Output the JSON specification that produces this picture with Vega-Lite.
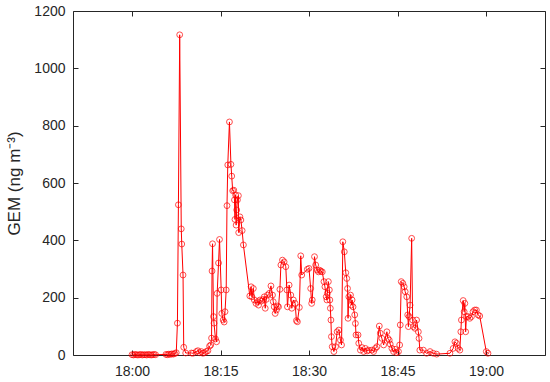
{
  "$schema": "https://vega.github.io/schema/vega-lite/v6.json",
  "width": 472,
  "height": 344,
  "autosize": "none",
  "padding": {"left": 73, "top": 11, "right": 5, "bottom": 27},
  "background": "white",
  "config": {
    "view": {"stroke": null},
    "font": "Liberation Sans",
    "axis": {
      "grid": false,
      "domainColor": "#262626",
      "domainWidth": 1,
      "tickColor": "#262626",
      "tickWidth": 1,
      "tickSize": -5,
      "labelColor": "#262626",
      "labelFont": "Liberation Sans",
      "labelFontSize": 14,
      "titleFont": "Liberation Sans",
      "titleFontWeight": "normal",
      "titleColor": "#262626"
    }
  },
  "data": {
    "format": {"parse": {"t": "date:'%H:%M:%S'"}},
    "values": [
      {"t": "18:00:00", "v": 1}, {"t": "18:00:15", "v": 0}, {"t": "18:00:30", "v": 2}, {"t": "18:00:45", "v": 1},
      {"t": "18:01:00", "v": 0}, {"t": "18:01:15", "v": 1}, {"t": "18:01:30", "v": 2}, {"t": "18:01:45", "v": 0},
      {"t": "18:02:00", "v": 1}, {"t": "18:02:15", "v": 1}, {"t": "18:02:30", "v": 0}, {"t": "18:02:45", "v": 2},
      {"t": "18:03:00", "v": 1}, {"t": "18:03:15", "v": 0}, {"t": "18:03:30", "v": 1}, {"t": "18:03:45", "v": 2},
      {"t": "18:04:00", "v": 1},
      {"t": "18:05:45", "v": 2}, {"t": "18:06:00", "v": 1}, {"t": "18:06:15", "v": 3}, {"t": "18:06:30", "v": 2},
      {"t": "18:06:45", "v": 4}, {"t": "18:07:00", "v": 3}, {"t": "18:07:15", "v": 5}, {"t": "18:07:30", "v": 8},
      {"t": "18:07:42", "v": 111}, {"t": "18:07:52", "v": 524}, {"t": "18:08:05", "v": 1117}, {"t": "18:08:21", "v": 440},
      {"t": "18:08:26", "v": 387}, {"t": "18:08:39", "v": 279}, {"t": "18:08:46", "v": 27}, {"t": "18:09:06", "v": 7},
      {"t": "18:10:04", "v": 7}, {"t": "18:10:20", "v": 6}, {"t": "18:10:54", "v": 12}, {"t": "18:11:10", "v": 15},
      {"t": "18:11:28", "v": 8}, {"t": "18:11:45", "v": 12}, {"t": "18:12:01", "v": 6}, {"t": "18:12:18", "v": 8},
      {"t": "18:12:35", "v": 12}, {"t": "18:12:52", "v": 15}, {"t": "18:13:09", "v": 31}, {"t": "18:13:21", "v": 35},
      {"t": "18:13:29", "v": 59}, {"t": "18:13:34", "v": 293}, {"t": "18:13:39", "v": 388}, {"t": "18:13:49", "v": 134},
      {"t": "18:13:54", "v": 111}, {"t": "18:14:09", "v": 56}, {"t": "18:14:20", "v": 46}, {"t": "18:14:26", "v": 215},
      {"t": "18:14:40", "v": 321}, {"t": "18:14:50", "v": 403}, {"t": "18:15:07", "v": 227}, {"t": "18:15:13", "v": 145},
      {"t": "18:15:27", "v": 122}, {"t": "18:15:37", "v": 115}, {"t": "18:15:46", "v": 151}, {"t": "18:15:58", "v": 227},
      {"t": "18:16:06", "v": 521}, {"t": "18:16:14", "v": 663}, {"t": "18:16:31", "v": 813}, {"t": "18:16:46", "v": 665},
      {"t": "18:16:54", "v": 624}, {"t": "18:17:04", "v": 573}, {"t": "18:17:15", "v": 575}, {"t": "18:17:22", "v": 541},
      {"t": "18:17:27", "v": 473}, {"t": "18:17:34", "v": 558}, {"t": "18:17:39", "v": 453}, {"t": "18:17:45", "v": 506},
      {"t": "18:17:52", "v": 541}, {"t": "18:18:02", "v": 556}, {"t": "18:18:05", "v": 427}, {"t": "18:18:17", "v": 482},
      {"t": "18:18:27", "v": 471}, {"t": "18:18:40", "v": 434}, {"t": "18:18:53", "v": 384}, {"t": "18:19:58", "v": 206},
      {"t": "18:20:11", "v": 238}, {"t": "18:20:19", "v": 203}, {"t": "18:20:34", "v": 232}, {"t": "18:20:44", "v": 192},
      {"t": "18:21:01", "v": 180}, {"t": "18:21:17", "v": 186}, {"t": "18:21:27", "v": 174}, {"t": "18:21:42", "v": 192},
      {"t": "18:21:55", "v": 188}, {"t": "18:22:15", "v": 194}, {"t": "18:22:25", "v": 203}, {"t": "18:22:35", "v": 163},
      {"t": "18:22:45", "v": 194}, {"t": "18:22:58", "v": 209}, {"t": "18:23:16", "v": 215}, {"t": "18:23:33", "v": 241},
      {"t": "18:23:49", "v": 209}, {"t": "18:23:56", "v": 186}, {"t": "18:24:06", "v": 168}, {"t": "18:24:16", "v": 145},
      {"t": "18:24:29", "v": 157}, {"t": "18:24:40", "v": 171}, {"t": "18:24:50", "v": 168}, {"t": "18:25:04", "v": 229},
      {"t": "18:25:14", "v": 314}, {"t": "18:25:30", "v": 331}, {"t": "18:25:47", "v": 325}, {"t": "18:26:04", "v": 308},
      {"t": "18:26:15", "v": 227}, {"t": "18:26:21", "v": 168}, {"t": "18:26:38", "v": 244}, {"t": "18:26:55", "v": 209},
      {"t": "18:27:05", "v": 163}, {"t": "18:27:21", "v": 192}, {"t": "18:27:39", "v": 180}, {"t": "18:27:52", "v": 120},
      {"t": "18:28:02", "v": 116}, {"t": "18:28:22", "v": 166}, {"t": "18:28:36", "v": 346}, {"t": "18:28:46", "v": 279},
      {"t": "18:29:43", "v": 299}, {"t": "18:30:00", "v": 302}, {"t": "18:30:17", "v": 232}, {"t": "18:30:27", "v": 180},
      {"t": "18:30:33", "v": 192}, {"t": "18:30:56", "v": 343}, {"t": "18:31:08", "v": 314}, {"t": "18:31:24", "v": 296},
      {"t": "18:31:36", "v": 290}, {"t": "18:31:48", "v": 296}, {"t": "18:32:01", "v": 292}, {"t": "18:32:15", "v": 290},
      {"t": "18:32:32", "v": 256}, {"t": "18:32:42", "v": 238}, {"t": "18:32:55", "v": 203}, {"t": "18:33:02", "v": 192},
      {"t": "18:33:07", "v": 215}, {"t": "18:33:17", "v": 256}, {"t": "18:33:27", "v": 227}, {"t": "18:33:32", "v": 192},
      {"t": "18:33:37", "v": 163}, {"t": "18:33:43", "v": 122}, {"t": "18:33:48", "v": 64}, {"t": "18:33:56", "v": 29},
      {"t": "18:34:13", "v": 12}, {"t": "18:34:30", "v": 29}, {"t": "18:34:46", "v": 81}, {"t": "18:35:03", "v": 87},
      {"t": "18:35:20", "v": 52}, {"t": "18:35:31", "v": 35}, {"t": "18:35:44", "v": 395}, {"t": "18:35:59", "v": 360},
      {"t": "18:36:14", "v": 287}, {"t": "18:36:24", "v": 267}, {"t": "18:36:32", "v": 232}, {"t": "18:36:37", "v": 128},
      {"t": "18:36:45", "v": 203}, {"t": "18:37:02", "v": 209}, {"t": "18:37:10", "v": 174}, {"t": "18:37:18", "v": 192},
      {"t": "18:37:28", "v": 168}, {"t": "18:37:45", "v": 140}, {"t": "18:37:52", "v": 110}, {"t": "18:37:58", "v": 70},
      {"t": "18:38:19", "v": 70}, {"t": "18:38:26", "v": 41}, {"t": "18:38:43", "v": 17}, {"t": "18:38:59", "v": 26},
      {"t": "18:39:16", "v": 12}, {"t": "18:39:33", "v": 23}, {"t": "18:39:51", "v": 14}, {"t": "18:40:07", "v": 17},
      {"t": "18:40:40", "v": 17}, {"t": "18:40:57", "v": 12}, {"t": "18:41:15", "v": 23}, {"t": "18:41:31", "v": 29},
      {"t": "18:41:55", "v": 101}, {"t": "18:42:05", "v": 76}, {"t": "18:42:21", "v": 58}, {"t": "18:42:39", "v": 35},
      {"t": "18:43:12", "v": 81}, {"t": "18:43:22", "v": 58}, {"t": "18:43:36", "v": 52}, {"t": "18:43:46", "v": 38},
      {"t": "18:44:03", "v": 23}, {"t": "18:44:20", "v": 12}, {"t": "18:44:35", "v": 20}, {"t": "18:44:53", "v": 8},
      {"t": "18:45:10", "v": 12}, {"t": "18:45:22", "v": 35}, {"t": "18:45:28", "v": 105}, {"t": "18:45:38", "v": 256},
      {"t": "18:45:54", "v": 250}, {"t": "18:46:08", "v": 238}, {"t": "18:46:18", "v": 221}, {"t": "18:46:34", "v": 203},
      {"t": "18:46:44", "v": 140}, {"t": "18:46:51", "v": 99}, {"t": "18:46:58", "v": 134}, {"t": "18:47:08", "v": 174},
      {"t": "18:47:24", "v": 407}, {"t": "18:47:34", "v": 122}, {"t": "18:47:41", "v": 99}, {"t": "18:47:58", "v": 93},
      {"t": "18:48:14", "v": 122}, {"t": "18:48:32", "v": 81}, {"t": "18:48:39", "v": 58}, {"t": "18:48:47", "v": 17},
      {"t": "18:49:23", "v": 17}, {"t": "18:49:56", "v": 6}, {"t": "18:50:31", "v": 12}, {"t": "18:51:04", "v": 6},
      {"t": "18:51:38", "v": 3}, {"t": "18:53:53", "v": 6}, {"t": "18:54:26", "v": 23}, {"t": "18:54:44", "v": 46},
      {"t": "18:55:00", "v": 41}, {"t": "18:55:17", "v": 23}, {"t": "18:55:34", "v": 17}, {"t": "18:55:44", "v": 81},
      {"t": "18:55:50", "v": 122}, {"t": "18:56:08", "v": 190}, {"t": "18:56:18", "v": 151}, {"t": "18:56:25", "v": 180},
      {"t": "18:56:33", "v": 81}, {"t": "18:56:41", "v": 134}, {"t": "18:56:58", "v": 134}, {"t": "18:57:15", "v": 128},
      {"t": "18:57:32", "v": 134}, {"t": "18:57:48", "v": 151}, {"t": "18:58:05", "v": 157}, {"t": "18:58:22", "v": 157},
      {"t": "18:58:39", "v": 140}, {"t": "18:58:56", "v": 136}, {"t": "19:00:03", "v": 12}, {"t": "19:00:20", "v": 6}
    ]
  },
  "encoding": {
    "x": {
      "field": "t",
      "type": "temporal",
      "scale": {"domain": [
        {"year": 1900, "month": 1, "date": 1, "hours": 17, "minutes": 50},
        {"year": 1900, "month": 1, "date": 1, "hours": 19, "minutes": 10}
      ]}
    },
    "y": {
      "field": "v",
      "type": "quantitative",
      "scale": {"domain": [0, 1200], "nice": false}
    }
  },
  "layer": [
    {
      "mark": {"type": "line", "color": "#ff0000", "strokeWidth": 1, "clip": true},
      "encoding": {
        "x": {
          "field": "t", "type": "temporal",
          "axis": {
            "orient": "bottom", "title": null, "format": "%H:%M", "labelPadding": 14,
            "values": [
              {"year": 1900, "month": 1, "date": 1, "hours": 18, "minutes": 0},
              {"year": 1900, "month": 1, "date": 1, "hours": 18, "minutes": 15},
              {"year": 1900, "month": 1, "date": 1, "hours": 18, "minutes": 30},
              {"year": 1900, "month": 1, "date": 1, "hours": 18, "minutes": 45},
              {"year": 1900, "month": 1, "date": 1, "hours": 19, "minutes": 0}
            ]
          }
        },
        "y": {
          "field": "v", "type": "quantitative",
          "axis": {
            "orient": "left", "title": "GEM (ng m⁻³)", "titleFontSize": 17, "titlePadding": 10, "format": "d",
            "values": [0, 200, 400, 600, 800, 1000, 1200], "labelPadding": 13
          }
        }
      }
    },
    {
      "mark": {"type": "point", "shape": "circle", "filled": false, "color": "#ff0000", "size": 34, "strokeWidth": 1},
      "encoding": {
        "x": {
          "field": "t", "type": "temporal",
          "axis": {
            "orient": "top", "title": null, "labels": false,
            "values": [
              {"year": 1900, "month": 1, "date": 1, "hours": 18, "minutes": 0},
              {"year": 1900, "month": 1, "date": 1, "hours": 18, "minutes": 15},
              {"year": 1900, "month": 1, "date": 1, "hours": 18, "minutes": 30},
              {"year": 1900, "month": 1, "date": 1, "hours": 18, "minutes": 45},
              {"year": 1900, "month": 1, "date": 1, "hours": 19, "minutes": 0}
            ]
          }
        },
        "y": {
          "field": "v", "type": "quantitative",
          "axis": {"orient": "right", "title": null, "labels": false, "values": [0, 200, 400, 600, 800, 1000, 1200]}
        }
      }
    }
  ],
  "resolve": {"axis": {"x": "independent", "y": "independent"}}
}
